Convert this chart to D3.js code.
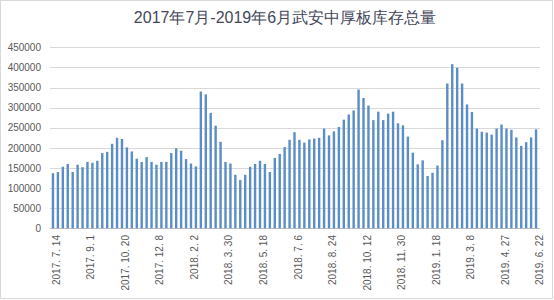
<!DOCTYPE html>
<html>
<head>
<meta charset="utf-8">
<script src="https://cdn.jsdelivr.net/npm/d3@7/dist/d3.min.js"></script>
<style>
  body { margin: 0; background: #fff; }
  text { font-family: "Liberation Sans", Arial, sans-serif; }
</style>
</head>
<body>
<div></div>
<script>
var width = 554;
var height = 300;

var title = "2017年7月-2019年6月武安中厚板库存总量";

// weekly stock, one bar per week
var stock = [
	137000, 140000, 153000, 160000, 140000, 158000, 152000, 165000, 163000, 168000,
	187000, 190000, 210000, 225000, 222000, 201000, 191000, 173000, 165000, 177000,
	165000, 158000, 165000, 165000, 187000, 199000, 193000, 172000, 161000, 154000,
	340000, 333000, 287000, 255000, 215000, 165000, 161000, 133000, 120000, 133000,
	153000, 160000, 168000, 160000, 140000, 175000, 185000, 202000, 220000, 239000,
	220000, 213000, 221000, 223000, 225000, 248000, 231000, 241000, 252000, 270000,
	283000, 293000, 345000, 324000, 305000, 269000, 290000, 269000, 285000, 290000,
	261000, 256000, 228000, 188000, 159000, 169000, 130000, 138000, 156000, 219000,
	360000, 408000, 399000, 360000, 308000, 289000, 248000, 240000, 238000, 233000,
	248000, 258000, 248000, 245000, 226000, 205000, 214000, 226000, 246000
];

// labels shown on every 7th week
var tickLabels = [
	"2017. 7. 14", "2017. 9. 1", "2017. 10. 20", "2017. 12. 8", "2018. 2. 2",
	"2018. 3. 30", "2018. 5. 18", "2018. 7. 6", "2018. 8. 24", "2018. 10. 12",
	"2018. 11. 30", "2019. 1. 18", "2019. 3. 8", "2019. 4. 27", "2019. 6. 22"
];
var tickStep = 7;

var yTicks = [0, 50000, 100000, 150000, 200000, 250000, 300000, 350000, 400000, 450000];

var svg = d3.select("div")
	.append("svg")
	.attr("width", width)
	.attr("height", height);

svg.append("rect")
	.attr("x", 0.5)
	.attr("y", 0.5)
	.attr("width", width - 2)
	.attr("height", height - 2)
	.attr("fill", "#fff")
	.attr("stroke", "#d9d9d9");

var x = d3.scaleBand()
	.domain(d3.range(stock.length))
	.range([50.5, 538.5]);

var y = d3.scaleLinear()
	.domain([0, 450000])
	.range([228.3, 47.3]);

svg.append("text")
	.attr("x", 285)
	.attr("y", 23)
	.attr("text-anchor", "middle")
	.attr("font-size", 16)
	.attr("fill", "#44475a")
	.text(title);

// grid
svg.append("g")
	.selectAll("line")
	.data(yTicks)
	.enter()
	.append("line")
	.attr("x1", 50)
	.attr("x2", 540)
	.attr("y1", d => Math.round(y(d)) + 0.5)
	.attr("y2", d => Math.round(y(d)) + 0.5)
	.attr("stroke", d => d === 0 ? "#bfbfbf" : "#d9d9d9")
	.attr("stroke-width", 1);

const yAxis = svg.append("g")
	.attr("transform", "translate(45,0)")
	.call(d3.axisLeft(y).tickValues(yTicks).tickSize(0).tickPadding(4).tickFormat(d3.format("d")));
yAxis.select(".domain").remove();
yAxis.selectAll("text")
	.attr("font-size", 10)
	.attr("fill", "#595959")
	.attr("font-family", "Liberation Sans, Arial, sans-serif");

// bars
svg.append("g")
	.selectAll("rect")
	.data(stock)
	.enter()
	.append("rect")
	.attr("x", (d, i) => x(i) + x.bandwidth() / 2 - 1.2)
	.attr("width", 2.4)
	.attr("y", d => y(d))
	.attr("height", d => y(0) - y(d))
	.attr("fill", "#5b8ec6");

// x labels, rotated
svg.append("g")
	.selectAll("text")
	.data(tickLabels)
	.enter()
	.append("text")
	.attr("transform", (d, i) => "translate(" + (x(i * tickStep) + x.bandwidth() / 2 + 3.5) + ",235) rotate(-90)")
	.attr("text-anchor", "end")
	.attr("dy", "0.35em")
	.attr("font-size", 10)
	.attr("fill", "#595959")
	.text(d => d);
</script>
</body>
</html>
